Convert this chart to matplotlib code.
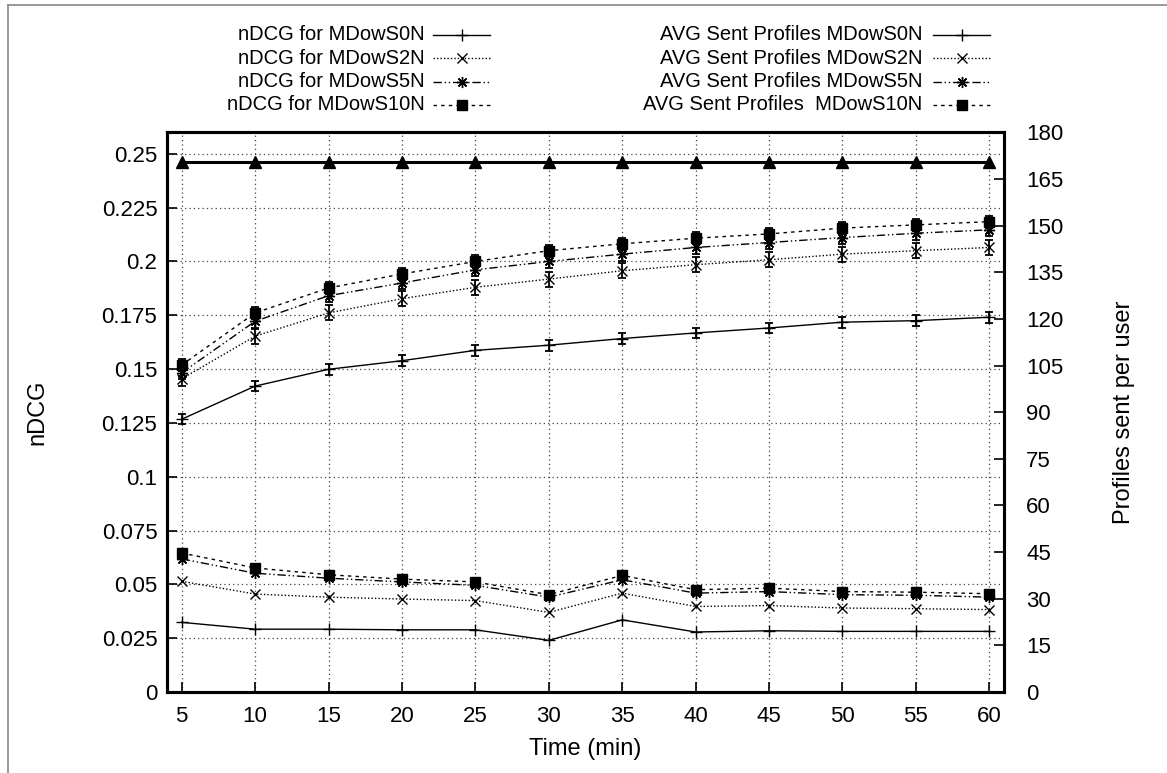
import matplotlib
matplotlib.use("Agg")
import matplotlib.pyplot as plt
from matplotlib.lines import Line2D
import numpy as np

# ---------------- data ----------------
times = [5, 10, 15, 20, 25, 30, 35, 40, 45, 50, 55, 60]

ndcg_s0 = [0.1267, 0.1421, 0.1499, 0.1539, 0.1587, 0.1611, 0.1642, 0.1668, 0.1691, 0.1718, 0.1725, 0.1741]
ndcg_s2 = [0.1455, 0.1653, 0.1761, 0.1827, 0.1880, 0.1918, 0.1957, 0.1985, 0.2008, 0.2034, 0.2050, 0.2065]
ndcg_s5 = [0.1483, 0.1722, 0.1841, 0.1900, 0.1961, 0.2000, 0.2034, 0.2065, 0.2088, 0.2111, 0.2131, 0.2147]
ndcg_s10 = [0.1519, 0.1761, 0.1877, 0.1942, 0.2000, 0.2050, 0.2082, 0.2108, 0.2128, 0.2155, 0.2170, 0.2185]

err_s0 = [0.0023, 0.0023, 0.0025, 0.0025, 0.0025, 0.0025, 0.0025, 0.0025, 0.0025, 0.0025, 0.0025, 0.0025]
err_s2 = [0.0035, 0.0035, 0.0035, 0.0035, 0.0035, 0.0035, 0.0035, 0.0035, 0.0035, 0.0035, 0.0035, 0.0035]
err_s5 = [0.0030, 0.0030, 0.0030, 0.0030, 0.0030, 0.0030, 0.0030, 0.0030, 0.0030, 0.0030, 0.0030, 0.0030]
err_s10 = [0.0028, 0.0028, 0.0028, 0.0028, 0.0028, 0.0028, 0.0028, 0.0028, 0.0028, 0.0028, 0.0028, 0.0028]

sent_s0 = [22.4, 20.2, 20.2, 20.0, 20.0, 16.6, 23.2, 19.3, 19.7, 19.5, 19.5, 19.5]
sent_s2 = [35.6, 31.5, 30.5, 29.9, 29.4, 25.6, 31.8, 27.5, 27.8, 27.0, 26.8, 26.5]
sent_s5 = [42.8, 38.2, 36.6, 35.4, 34.3, 30.5, 36.1, 31.8, 32.3, 31.3, 31.1, 30.5]
sent_s10 = [44.7, 39.9, 37.7, 36.3, 35.4, 31.3, 37.5, 32.9, 33.4, 32.3, 32.1, 31.6]
sent_total = [170.6, 170.6, 170.6, 170.6, 170.6, 170.6, 170.6, 170.6, 170.6, 170.6, 170.6, 170.6]

ndcg_labels = ["nDCG for MDowS0N", "nDCG for MDowS2N", "nDCG for MDowS5N", "nDCG for MDowS10N"]
sent_labels = ["AVG Sent Profiles MDowS0N", "AVG Sent Profiles MDowS2N",
               "AVG Sent Profiles MDowS5N", "AVG Sent Profiles  MDowS10N"]

xticks = [5, 10, 15, 20, 25, 30, 35, 40, 45, 50, 55, 60]
yticks_left = [0, 0.025, 0.05, 0.075, 0.1, 0.125, 0.15, 0.175, 0.2, 0.225, 0.25]
yticks_right = [0, 15, 30, 45, 60, 75, 90, 105, 120, 135, 150, 165, 180]

# ---------------- style ----------------
W, H = 1167, 773
TICKFONT = ["Liberation Sans", "DejaVu Sans"]
NARROW = ["Liberation Sans Narrow", "Liberation Sans", "DejaVu Sans"]

ls_dot = (0, (1, 1.5))
ls_dashdot = (0, (6, 2, 1, 2, 1, 2))
ls_dash = (0, (2.5, 3))
star = (8, 2, 0)

styles = [
    dict(ls="-", marker="+", ms=8, mfc="black"),
    dict(ls=ls_dot, marker="x", ms=7, mfc="black"),
    dict(ls=ls_dashdot, marker=star, ms=8, mfc="black"),
    dict(ls=ls_dash, marker="s", ms=7.5, mfc="black"),
]

fig = plt.figure(figsize=(W / 100, H / 100), dpi=100)
ax = fig.add_axes([167 / W, 1 - 692 / H, (1004 - 167) / W, (692 - 132.3) / H])
ax2 = ax.twinx()

ndcg = [ndcg_s0, ndcg_s2, ndcg_s5, ndcg_s10]
errs = [err_s0, err_s2, err_s5, err_s10]
sent = [sent_s0, sent_s2, sent_s5, sent_s10]

for d, e, st in zip(ndcg, errs, styles):
    ax.errorbar(times, d, yerr=e, fmt="none", ecolor="black", elinewidth=1.3,
                capsize=3.2, capthick=1.3, zorder=3)
    ax.plot(times, d, color="black", lw=1.0, linestyle=st["ls"], marker=st["marker"],
            ms=st["ms"], mfc=st["mfc"], mec="black", mew=1.0, zorder=4)

for d, st in zip(sent, styles):
    ax2.plot(times, d, color="black", lw=1.0, linestyle=st["ls"], marker=st["marker"],
             ms=st["ms"], mfc=st["mfc"], mec="black", mew=1.0, zorder=4)

ax2.plot(times, sent_total, color="black", lw=2.2, marker="^", ms=8, mfc="black",
         mec="black", zorder=4)

ax.set_xlim(4, 61)
ax.set_ylim(0, 0.26)
ax2.set_ylim(0, 180)

ax.set_xticks(xticks)
ax.set_xticklabels([str(t) for t in xticks], fontfamily=TICKFONT, fontsize=16)
ax.set_yticks(yticks_left)
ax.set_yticklabels(["%g" % v for v in yticks_left], fontfamily=TICKFONT, fontsize=16)
ax2.set_yticks(yticks_right)
ax2.set_yticklabels([str(v) for v in yticks_right], fontfamily=TICKFONT, fontsize=16)

ax.grid(True, color="#444444", linestyle=(0, (1, 2.5)), lw=0.9)
ax.tick_params(axis="y", direction="in", length=7, width=1.2, pad=7)
ax.tick_params(axis="x", direction="in", length=7, width=1.2, pad=10)
ax2.tick_params(direction="in", length=7, width=1.2, pad=16)

for a in (ax, ax2):
    for sp in a.spines.values():
        sp.set_linewidth(2.2)

ax.set_xlabel("Time (min)", fontfamily=TICKFONT, fontsize=17, labelpad=8)
ax.set_ylabel("nDCG", fontfamily=TICKFONT, fontsize=17, labelpad=38)
ax2.set_ylabel("Profiles sent per user", fontfamily=TICKFONT, fontsize=17, labelpad=36)

# ---------------- legend (gnuplot style, outside top) ----------------
rows_y = [35, 58, 81.5, 105]
col_text_x = [425, 922]
col_line_x = [(433, 490), (933, 990)]
for c, labels in enumerate([ndcg_labels, sent_labels]):
    for r, (lab, st) in enumerate(zip(labels, styles)):
        y = 1 - rows_y[r] / H
        fig.text(col_text_x[c] / W, y, lab, ha="right", va="center",
                 fontfamily=NARROW, fontsize=14.5)
        x0, x1 = col_line_x[c]
        fig.add_artist(Line2D([x0 / W, x1 / W], [y, y], transform=fig.transFigure,
                              color="black", lw=1.0, linestyle=st["ls"]))
        fig.add_artist(Line2D([(x0 + x1) / 2 / W], [y], transform=fig.transFigure,
                              color="black", marker=st["marker"], ms=st["ms"],
                              mfc="black", mec="black", mew=1.0, linestyle="none"))

# figure frame (left and top gray border)
fig.add_artist(Line2D([8 / W, 8 / W], [0, 1 - 5 / H], transform=fig.transFigure,
                      color="#888888", lw=1.2))
fig.add_artist(Line2D([8 / W, 1], [1 - 5 / H, 1 - 5 / H], transform=fig.transFigure,
                      color="#888888", lw=1.2))

fig.savefig("out.png", dpi=100, facecolor="white")
